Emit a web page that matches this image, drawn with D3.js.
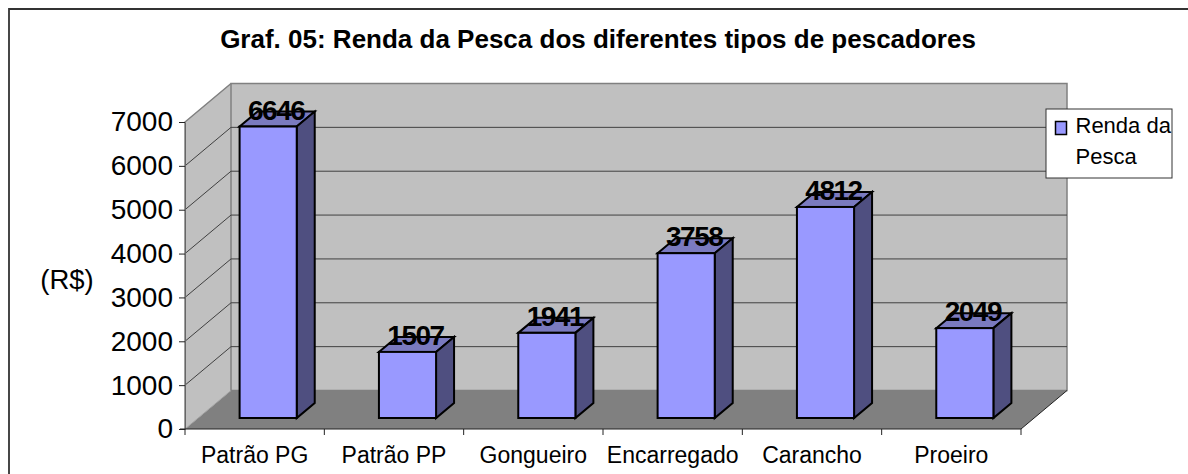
<!DOCTYPE html>
<html>
<head>
<meta charset="utf-8">
<script src="https://cdn.jsdelivr.net/npm/d3@7"></script>
<style>
html, body { margin: 0; padding: 0; background: #fff; }
svg { display: block; }
text { font-family: "Liberation Sans", Arial, sans-serif; fill: #000; }
</style>
</head>
<body>
<div id="chart"></div>
<script>
const categories = ["Patrão PG", "Patrão PP", "Gongueiro", "Encarregado", "Carancho", "Proeiro"];
const values = [6646, 1507, 1941, 3758, 4812, 2049];
const yTicks = [0, 1000, 2000, 3000, 4000, 5000, 6000, 7000];
const titleText = "Graf. 05: Renda da Pesca dos diferentes tipos de pescadores";
const yLabel = "(R$)";
const legendLines = ["Renda da", "Pesca"];

const w = 1188, h = 474;
const front = { left: 185, right: 1021, bottom: 429, top: 122 };
const wallDx = 46, wallDy = -38.5;    // depth of the whole 3d box
const barDx = 13.5, barDy = -11;      // where the bar front sits inside the box
const sideDx = 18, sideDy = -15;      // depth of a single bar

const svg = d3.select("#chart").append("svg").attr("width", w).attr("height", h);

const x = d3.scaleBand().domain(categories).range([front.left, front.right]).paddingInner(0.59).paddingOuter(0.295);
const y = d3.scaleLinear().domain([0, 7000]).range([front.bottom, front.top]);

const poly = pts => pts.map(p => p.join(",")).join(" ");

// outer frame, only left and top edges are in the picture
svg.append("path")
    .attr("d", `M9,${h}L9,9L${w},9`)
    .attr("fill", "none").attr("stroke", "#333").attr("stroke-width", 1.8);

// floor
svg.append("polygon")
    .attr("points", poly([[front.left, front.bottom], [front.right, front.bottom],
        [front.right + wallDx, front.bottom + wallDy], [front.left + wallDx, front.bottom + wallDy]]))
    .attr("fill", "#808080");

// side wall
svg.append("polygon")
    .attr("points", poly([[front.left, front.bottom], [front.left, front.top],
        [front.left + wallDx, front.top + wallDy], [front.left + wallDx, front.bottom + wallDy]]))
    .attr("fill", "#c0c0c0");

// back wall
svg.append("rect")
    .attr("x", front.left + wallDx).attr("y", front.top + wallDy)
    .attr("width", front.right - front.left).attr("height", front.bottom - front.top)
    .attr("fill", "#c0c0c0").attr("stroke", "#808080").attr("stroke-width", 1.5);

svg.append("path")
    .attr("d", `M${front.left},${front.bottom}L${front.left},${front.top}L${front.left + wallDx},${front.top + wallDy}`)
    .attr("fill", "none").attr("stroke", "#808080").attr("stroke-width", 1.5);

// gridlines on the side and back walls
svg.append("g").selectAll("path")
    .data(yTicks.filter(d => d > 0 && d < 7000))
    .enter()
    .append("path")
    .attr("d", d => `M${front.left},${y(d)}L${front.left + wallDx},${y(d) + wallDy}L${front.right + wallDx},${y(d) + wallDy}`)
    .attr("fill", "none").attr("stroke", "#404040").attr("stroke-width", 1);

svg.append("path")
    .attr("d", `M${front.left},${front.bottom}L${front.left + wallDx},${front.bottom + wallDy}`)
    .attr("stroke", "#a0a0a0").attr("fill", "none");

svg.append("path")
    .attr("d", `M${front.right},${front.bottom}L${front.right + wallDx},${front.bottom + wallDy}`)
    .attr("stroke", "#222").attr("fill", "none");

// axes
const yAxis = d3.axisLeft(y).tickValues(yTicks).tickFormat(d3.format("d")).tickSize(6).tickPadding(6).tickSizeOuter(0);
const yG = svg.append("g").attr("transform", `translate(${front.left},0)`).call(yAxis);
yG.selectAll("text").style("font-size", "28px");
yG.selectAll("line").attr("stroke", "#222");
yG.select("path").attr("stroke", "#666");

const step = x.step();
const xEdges = d3.range(categories.length + 1).map(i => front.left + i * step);
svg.append("g").selectAll("line").data(xEdges).enter().append("line")
    .attr("x1", d => d).attr("x2", d => d).attr("y1", front.bottom).attr("y2", front.bottom + 6)
    .attr("stroke", "#222");
svg.append("line").attr("x1", front.left - 5).attr("x2", front.right)
    .attr("y1", front.bottom).attr("y2", front.bottom).attr("stroke", "#222");

svg.append("g").selectAll("text").data(categories).enter().append("text")
    .attr("x", d => x(d) + x.bandwidth() / 2)
    .attr("y", 462.5)
    .attr("text-anchor", "middle")
    .style("font-size", "23px")
    .text(d => d);

// bars
const bars = svg.append("g").selectAll("g").data(values).enter().append("g");
const bx = (d, i) => x(categories[i]) + barDx;
const by = d => y(d) + barDy;
const base = y(0) + barDy;

bars.append("polygon")
    .attr("points", (d, i) => {
        const l = bx(d, i), r = l + x.bandwidth(), t = by(d);
        return poly([[l, t], [r, t], [r + sideDx, t + sideDy], [l + sideDx, t + sideDy]]);
    })
    .attr("fill", "#7a7abf").attr("stroke", "#000").attr("stroke-width", 2);

bars.append("polygon")
    .attr("points", (d, i) => {
        const r = bx(d, i) + x.bandwidth(), t = by(d);
        return poly([[r, t], [r + sideDx, t + sideDy], [r + sideDx, base + sideDy], [r, base]]);
    })
    .attr("fill", "#4f4f80").attr("stroke", "#000").attr("stroke-width", 2);

bars.append("rect")
    .attr("x", bx)
    .attr("y", by)
    .attr("width", x.bandwidth())
    .attr("height", d => base - by(d))
    .attr("fill", "#9999ff").attr("stroke", "#000").attr("stroke-width", 2);

bars.append("text")
    .attr("x", (d, i) => bx(d, i) + x.bandwidth() / 2 + 8)
    .attr("y", d => by(d) - 7)
    .attr("text-anchor", "middle")
    .style("font-size", "28px")
    .style("font-weight", "bold")
    .style("letter-spacing", "-1.5px")
    .text(d => d);

// title and y label
svg.append("text").attr("x", 598).attr("y", 48).attr("text-anchor", "middle")
    .style("font-size", "26px").style("font-weight", "bold").text(titleText);

svg.append("text").attr("x", 67).attr("y", 289).attr("text-anchor", "middle")
    .style("font-size", "27.5px").text(yLabel);

// legend
const legend = svg.append("g");
legend.append("rect").attr("x", 1046).attr("y", 109).attr("width", 126).attr("height", 69)
    .attr("fill", "#fff").attr("stroke", "#333").attr("stroke-width", 1);
legend.append("rect").attr("x", 1055.5).attr("y", 121.5).attr("width", 11).attr("height", 13)
    .attr("fill", "#9999ff").attr("stroke", "#000").attr("stroke-width", 1.5);
legend.selectAll("text.leg").data(legendLines).enter().append("text")
    .attr("class", "leg")
    .attr("x", 1075.5)
    .attr("y", (d, i) => 133 + i * 31)
    .style("font-size", "22px")
    .text(d => d);
</script>
</body>
</html>
